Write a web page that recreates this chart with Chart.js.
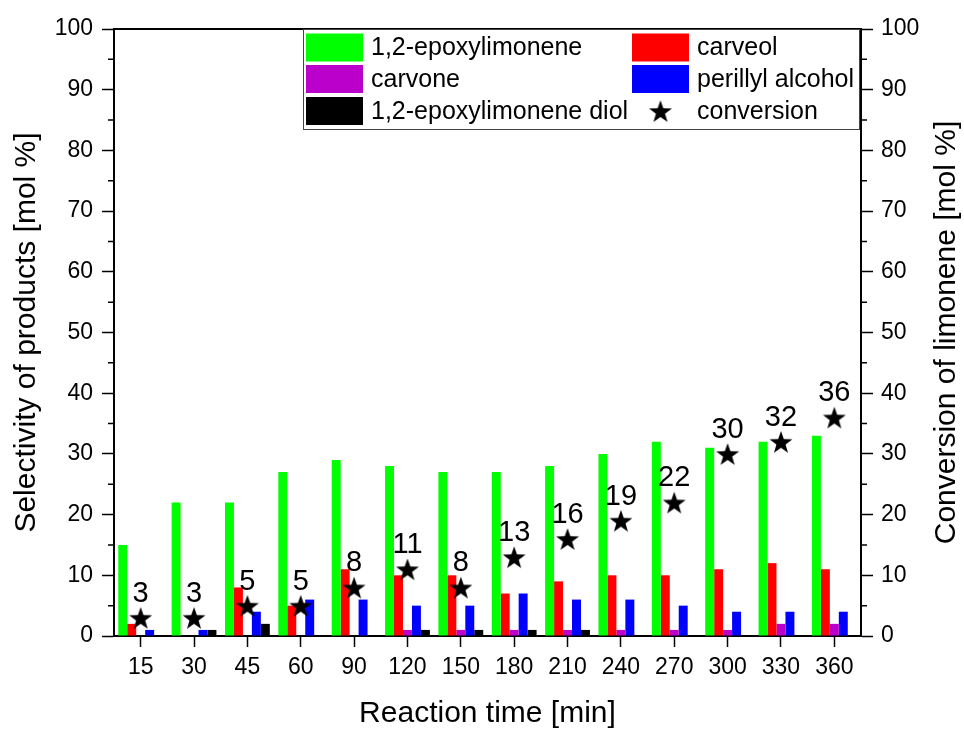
<!DOCTYPE html>
<html lang="en">
<head>
<meta charset="UTF-8" />
<title>Selectivity and conversion</title>
<script src="https://cdn.jsdelivr.net/npm/chart.js@4.4.0/dist/chart.umd.min.js"></script>
<style>
  body { margin: 0; background: #fff; }
  #wrap { width: 964px; height: 729px; }
</style>
</head>
<body>
<div id="wrap"><canvas id="chart"></canvas></div>
<script>
  const categories = ['15', '30', '45', '60', '90', '120', '150', '180', '210', '240', '270', '300', '330', '360']
  const epoxylimonene = [15, 22, 22, 27, 29, 28, 27, 27, 28, 30, 32, 31, 32, 33]
  const carveol = [2, 0, 8, 5, 11, 10, 10, 7, 9, 10, 10, 11, 12, 11]
  const carvone = [0, 0, 0, 0, 0, 1, 1, 1, 1, 1, 1, 1, 2, 2]
  const perillylAlcohol = [1, 1, 4, 6, 6, 5, 5, 7, 6, 6, 5, 4, 4, 4]
  const epoxyDiol = [0, 1, 2, 0, 0, 1, 1, 1, 1, 0, 0, 0, 0, 0]
  const conversion = [3, 3, 5, 5, 8, 11, 8, 13, 16, 19, 22, 30, 32, 36]

  const FONT = "'Liberation Sans', Arial, sans-serif"
  Chart.defaults.font.family = FONT
  Chart.defaults.color = '#000'

  // filled five-pointed star used as point style
  function makeStar(r) {
    const c = document.createElement('canvas')
    const size = Math.ceil(r * 2 + 2)
    c.width = c.height = size
    const ctx = c.getContext('2d')
    ctx.fillStyle = '#000'
    ctx.beginPath()
    for (let i = 0; i < 10; i++) {
      const rad = i % 2 ? r * 0.4 : r
      const a = -Math.PI / 2 + (i * Math.PI) / 5
      ctx.lineTo(size / 2 + rad * Math.cos(a), size / 2 + rad * Math.sin(a) + r * 0.1)
    }
    ctx.closePath()
    ctx.fill()
    return c
  }
  const star = makeStar(12)

  function bar(label, data, color) {
    return { type: 'bar', label, data, backgroundColor: color, borderWidth: 0, order: 1, yAxisID: 'y' }
  }

  // minor ticks, top border, right title, point labels and legend
  const extras = {
    id: 'extras',
    afterDatasetsDraw(chart) {
      const ctx = chart.ctx
      const meta = chart.getDatasetMeta(5)
      ctx.save()
      ctx.fillStyle = '#000'
      ctx.font = '29px ' + FONT
      ctx.textAlign = 'center'
      ctx.textBaseline = 'alphabetic'
      meta.data.forEach((pt, i) => {
        ctx.fillText(String(conversion[i]), pt.x, pt.y - 16)
      })
      ctx.restore()
    },
    afterDraw(chart) {
      const ctx = chart.ctx
      const { left, right, top } = chart.chartArea
      const y = chart.scales.y
      ctx.save()
      ctx.strokeStyle = '#000'
      ctx.lineWidth = 2
      ctx.beginPath()
      ctx.moveTo(left - 1, top)
      ctx.lineTo(right + 1, top)
      ctx.stroke()
      ctx.lineWidth = 1.5
      for (let v = 5; v < 100; v += 10) {
        const py = y.getPixelForValue(v)
        ctx.beginPath()
        ctx.moveTo(left - 6, py)
        ctx.lineTo(left, py)
        ctx.moveTo(right, py)
        ctx.lineTo(right + 6, py)
        ctx.stroke()
      }

      // right axis title, reading bottom to top
      ctx.fillStyle = '#000'
      ctx.font = '30px ' + FONT
      ctx.textAlign = 'center'
      ctx.textBaseline = 'middle'
      ctx.translate(947, (chart.chartArea.top + chart.chartArea.bottom) / 2)
      ctx.rotate(-Math.PI / 2)
      ctx.fillText('Conversion of limonene [mol %]', 0, 0)
      ctx.restore()

      // legend box
      const bx = 303, by = 29, bw = 556, bh = 100
      ctx.save()
      ctx.fillStyle = '#fff'
      ctx.fillRect(bx, by, bw, bh)
      ctx.strokeStyle = '#444'
      ctx.lineWidth = 1
      ctx.strokeRect(bx + 0.5, by + 0.5, bw, bh)
      ctx.font = '25px ' + FONT
      ctx.textBaseline = 'middle'
      ctx.textAlign = 'left'
      const colX = [306, 632]
      const rowY = [47.5, 79, 111]
      chart.data.datasets.forEach((ds, i) => {
        const sx = colX[i % 2]
        const sy = rowY[Math.floor(i / 2)]
        if (ds.type === 'bar') {
          ctx.fillStyle = ds.backgroundColor
          ctx.fillRect(sx, sy - 14, 57, 28)
        } else {
          ctx.drawImage(star, sx + 28.5 - star.width / 2, sy - star.height / 2)
        }
        ctx.fillStyle = '#000'
        ctx.fillText(ds.label, sx + 65, sy + 1)
      })
      ctx.restore()
    },
  }

  new Chart(document.getElementById('chart'), {
    data: {
      labels: categories,
      datasets: [
        bar('1,2-epoxylimonene', epoxylimonene, '#00ff00'),
        bar('carveol', carveol, '#ff0000'),
        bar('carvone', carvone, '#bb00cc'),
        bar('perillyl alcohol', perillylAlcohol, '#0000ff'),
        bar('1,2-epoxylimonene diol', epoxyDiol, '#000000'),
        {
          type: 'line',
          label: 'conversion',
          data: conversion,
          yAxisID: 'y2',
          showLine: false,
          pointStyle: star,
          pointRadius: 12,
          order: 0,
        },
      ],
    },
    options: {
      responsive: true,
      maintainAspectRatio: false,
      animation: false,
      layout: { padding: { top: 29, left: 0, right: 0, bottom: 0 } },
      datasets: { bar: { categoryPercentage: 0.84, barPercentage: 1 } },
      plugins: { legend: { display: false }, tooltip: { enabled: false } },
      scales: {
        x: {
          afterFit: (s) => { s.height = 93 },
          border: { color: '#000', width: 2 },
          grid: { offset: false, drawOnChartArea: false, tickLength: 11, tickWidth: 1.5, tickColor: '#000' },
          ticks: { font: { size: 23 }, padding: 7, maxRotation: 0 },
          title: { display: true, text: 'Reaction time [min]', font: { size: 30, lineHeight: 1 }, padding: { top: 0, bottom: 0 } },
        },
        y: {
          position: 'left',
          min: 0,
          max: 100,
          afterFit: (s) => { s.width = 114 },
          border: { color: '#000', width: 2 },
          grid: { drawOnChartArea: false, tickLength: 12, tickWidth: 1.5, tickColor: '#000' },
          ticks: { stepSize: 10, font: { size: 23 }, padding: 9 },
          title: { display: true, text: 'Selectivity of products [mol %]', font: { size: 30, lineHeight: 1 }, padding: { top: 12, bottom: 0 } },
        },
        y2: {
          position: 'right',
          min: 0,
          max: 100,
          afterFit: (s) => { s.width = 103 },
          border: { color: '#000', width: 2 },
          grid: { drawOnChartArea: false, tickLength: 12, tickWidth: 1.5, tickColor: '#000' },
          ticks: { stepSize: 10, font: { size: 23 }, padding: 8 },
        },
      },
    },
    plugins: [extras],
  })
</script>
</body>
</html>
